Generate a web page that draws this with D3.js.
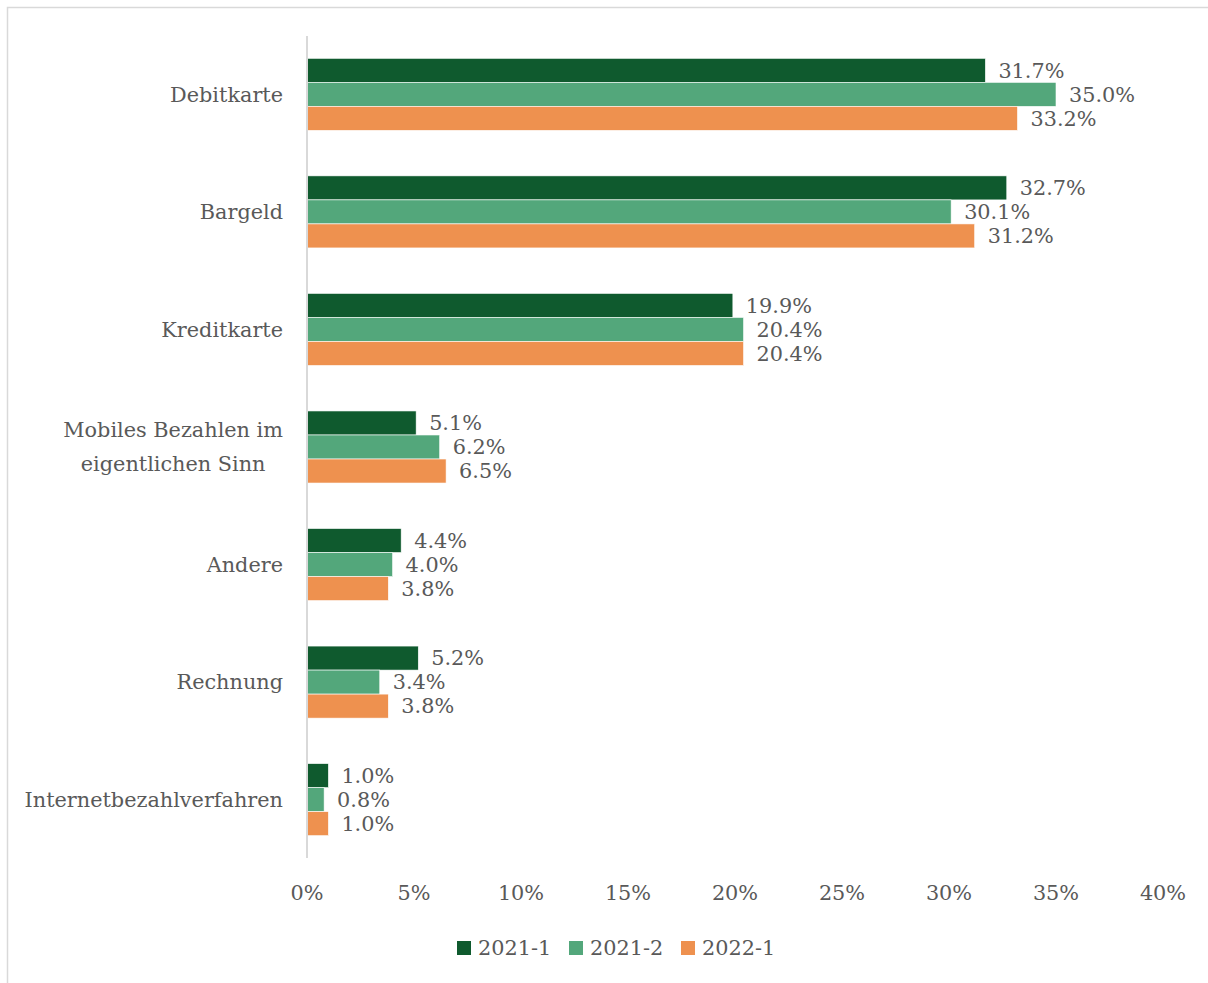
<!DOCTYPE html>
<html>
<head>
<meta charset="utf-8">
<script src="https://cdn.jsdelivr.net/npm/d3@7"></script>
<style>
  body { margin: 0; background: #fff; }
  svg text { font-family: 'DejaVu Serif', 'Liberation Serif', serif; fill: #595959; }
</style>
</head>
<body>
<div id="chrt"></div>
<script>
// categories top to bottom
const categories = ['Debitkarte', 'Bargeld', 'Kreditkarte', 'Mobiles Bezahlen im|eigentlichen Sinn', 'Andere', 'Rechnung', 'Internetbezahlverfahren'];
const seriesNames = ['2021-1', '2021-2', '2022-1'];
const vals2021a = [31.7, 32.7, 19.9, 5.1, 4.4, 5.2, 1.0];
const vals2021b = [35.0, 30.1, 20.4, 6.2, 4.0, 3.4, 0.8];
const vals2022a = [33.2, 31.2, 20.4, 6.5, 3.8, 3.8, 1.0];
const xTicks = [0, 5, 10, 15, 20, 25, 30, 35, 40];
const colors = ['#0f5a2e', '#53a77b', '#ee914f'];

const width = 1208, height = 983;
const margin = { left: 307, right: 45, top: 36, bottom: 125 };
const plotW = width - margin.left - margin.right;
const plotH = height - margin.top - margin.bottom;
const fontSize = '20.8px';

const rows = categories.map((c, i) => ({ name: c, values: [vals2021a[i], vals2021b[i], vals2022a[i]] }));

const svg = d3.select('#chrt').append('svg')
    .attr('width', width)
    .attr('height', height);

// outer border of chart area
svg.append('rect')
    .attr('x', 7.5).attr('y', 7.5)
    .attr('width', width + 10).attr('height', height + 10)
    .attr('fill', 'none').attr('stroke', '#d9d9d9').attr('stroke-width', 1.5);

const chrt = svg.append('g').attr('transform', 'translate(' + margin.left + ',' + margin.top + ')');

const scaleX = d3.scaleLinear().domain([0, 40]).range([0, plotW]);
const scaleY = d3.scaleBand().domain(categories).range([0, plotH]).paddingInner(0.387).paddingOuter(0.19);
const scaleSub = d3.scaleBand().domain(seriesNames).range([0, scaleY.bandwidth()]);

// bars
const grp = chrt.selectAll('.grp')
    .data(rows)
    .enter().append('g')
    .attr('transform', (d) => 'translate(0,' + scaleY(d.name) + ')');

grp.selectAll('rect')
    .data((d) => d.values.map((v, j) => ({ key: seriesNames[j], v: v, j: j })))
    .enter().append('rect')
    .attr('x', 0)
    .attr('y', (d) => scaleSub(d.key))
    .attr('width', (d) => scaleX(d.v))
    .attr('height', scaleSub.bandwidth())
    .attr('fill', (d) => colors[d.j])
    .attr('stroke', '#fff')
    .attr('stroke-width', 0.6);

// data labels
grp.selectAll('text')
    .data((d) => d.values.map((v, j) => ({ key: seriesNames[j], v: v })))
    .enter().append('text')
    .attr('x', (d) => scaleX(d.v) + 13)
    .attr('y', (d) => scaleSub(d.key) + scaleSub.bandwidth() / 2)
    .attr('dy', '0.35em')
    .style('font-size', fontSize)
    .text((d) => d.v.toFixed(1) + '%');

// vertical axis line
chrt.append('line')
    .attr('x1', 0).attr('x2', 0)
    .attr('y1', 0).attr('y2', plotH)
    .attr('stroke', '#d9d9d9').attr('stroke-width', 2);

// category labels (two-line label is centred as a block, right aligned)
const catLbl = chrt.selectAll('.cat')
    .data(categories)
    .enter().append('text')
    .attr('class', 'cat')
    .style('font-size', fontSize)
    .attr('y', (d) => scaleY(d) + scaleY.bandwidth() / 2);
catLbl.each(function(d) {
  const lines = d.split('|');
  const t = d3.select(this);
  if (lines.length === 1) {
    t.attr('text-anchor', 'end').append('tspan').attr('x', -24).attr('dy', '0.35em').text(d);
    return;
  }
  t.attr('text-anchor', 'middle');
  const spans = lines.map((ln, i) => t.append('tspan')
      .attr('dy', i === 0 ? '-0.5em' : '1.65em')
      .text(ln));
  const w = d3.max(spans, (s) => s.node().getComputedTextLength());
  spans.forEach((s) => s.attr('x', -24 - w / 2));
});

// x tick labels
chrt.selectAll('.xt')
    .data(xTicks)
    .enter().append('text')
    .attr('x', (d) => scaleX(d))
    .attr('y', plotH + 42)
    .attr('text-anchor', 'middle')
    .style('font-size', fontSize)
    .text((d) => d + '%');

// legend
const legend = svg.append('g').attr('transform', 'translate(457,948)');
const li = legend.selectAll('g')
    .data(seriesNames)
    .enter().append('g')
    .attr('transform', (d, i) => 'translate(' + (i * 112) + ',0)');
li.append('rect')
    .attr('x', 0).attr('y', -7)
    .attr('width', 14).attr('height', 14)
    .attr('fill', (d, i) => colors[i]);
li.append('text')
    .attr('x', 21).attr('dy', '0.35em')
    .style('font-size', fontSize)
    .text((d) => d);
</script>
</body>
</html>
